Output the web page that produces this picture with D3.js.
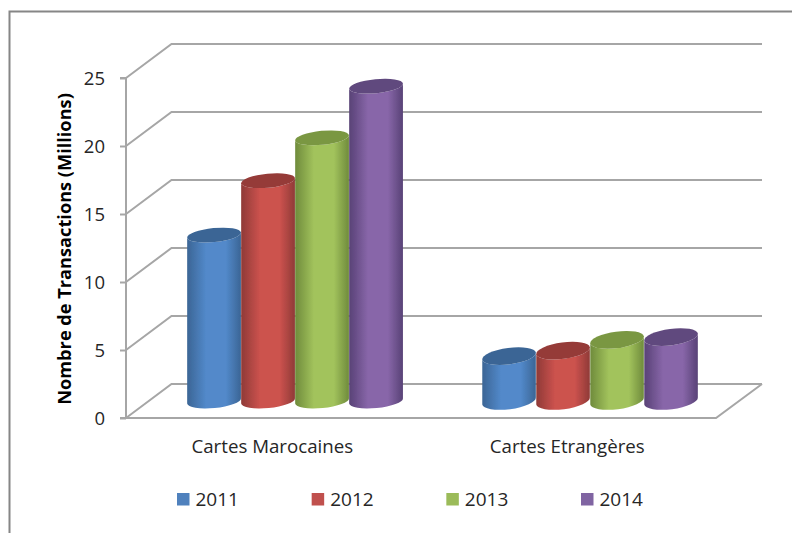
<!DOCTYPE html>
<html><head><meta charset="utf-8">
<script src="https://cdnjs.cloudflare.com/ajax/libs/d3/7.8.5/d3.min.js"></script>
<style>html,body{margin:0;padding:0;background:#fff}svg{display:block}</style>
</head><body><svg id="c" width="792" height="533"></svg>
<script>
const categories = ["Cartes Marocaines", "Cartes Etrangères"];
const years = ["2011", "2012", "2013", "2014"];
const values2011 = [12.2, 3.3];
const values2012 = [16.2, 3.7];
const values2013 = [19.35, 4.5];
const values2014 = [23.15, 4.7];
const seriesValues = [values2011, values2012, values2013, values2014];
const yTicks = [0, 5, 10, 15, 20, 25];
const sideColors = ["#5289ca", "#cc524e", "#a2c35c", "#8866a9"];
const edgeColors = ["#3b6595", "#8f3a37", "#6f8b3c", "#584276"];
const topColors = ["#3a6595", "#953a38", "#7a9742", "#61497e"];
const legendColors = ["#4f81bd", "#c0504d", "#9bbb59", "#8064a2"];
const gridColor = "#a6a6a6", font = "'Open Sans', sans-serif", textColor = "#262626";

const svg = d3.select("#c");
const M = {left: 126, right: 716, top: 78, bottom: 418};
const depth = {x: 45.5, y: 34};
const y = d3.scaleLinear().domain([0, 25]).range([M.bottom, M.top]);
const x0 = d3.scaleBand().domain(categories).range([M.left, M.right]);
const barW = 54;
const x1 = d3.scaleBand().domain(years).range([0, barW * 4]);

// frame
svg.append("path").attr("d", "M9.5,533V11.5H792").attr("fill", "none").attr("stroke", "#868686").attr("stroke-width", 2);

// gradients
const defs = svg.append("defs");
years.forEach((yr, i) => {
  const g = defs.append("linearGradient").attr("id", "g" + i);
  [[0, edgeColors[i]], [.35, sideColors[i]], [.55, sideColors[i]], [.72, sideColors[i]], [1, edgeColors[i]]]
    .forEach(([o, c]) => g.append("stop").attr("offset", o).attr("stop-color", c));
});
defs.append("filter").attr("id", "soft").attr("x", "-5%").attr("y", "-5%").attr("width", "110%").attr("height", "110%")
  .append("feGaussianBlur").attr("stdDeviation", 0.5);

// walls and grid
const grid = svg.append("g").attr("fill", "none").attr("stroke", gridColor).attr("stroke-width", 2);
yTicks.forEach(t => {
  grid.append("path").attr("d", `M${M.left},${y(t)}L${M.left + depth.x},${y(t) - depth.y}H762`);
});
grid.append("path").attr("d", `M${M.left},${y(0)}H${M.right}L762,${y(0) - depth.y}`);

const axis = d3.axisLeft(y).tickValues(yTicks).tickSize(6).tickPadding(15);
const ag = svg.append("g").attr("transform", `translate(${M.left},0)`).call(axis);
ag.select(".domain").attr("stroke", gridColor).attr("stroke-width", 2).attr("d", `M-6,${M.top}H0V${M.bottom}H-6`);
ag.selectAll(".tick line").attr("stroke", gridColor).attr("stroke-width", 2);
ag.selectAll(".tick text").attr("font-family", font).attr("font-size", 18.5).attr("fill", textColor).attr("dy", "0.36em");

// cylinders
const rx = barW / 2, rys = [7, 8.2], tilts = [-5.5, -7.5];
const baseY = y(0) - 17;
const pxPerUnit = y(0) - y(1);
const barsG = svg.append("g").attr("filter", "url(#soft)");
categories.forEach((c, ci) => {
  const gx = x0(c) + x0.bandwidth() / 2 + depth.x / 2 - barW * 2 - 1.2;
  const tilt = tilts[ci], ry = rys[ci];
  years.forEach((yr, si) => {
    const v = seriesValues[si][ci];
    const cx = gx + x1(yr) + rx;
    const cy = baseY - v * pxPerUnit;
    const g = barsG.append("g").attr("transform", `translate(${cx},0)`);
    const a = tilt * Math.PI / 180, dx = rx * Math.cos(a), dy = rx * Math.sin(a);
    g.append("path")
      .attr("d", `M${-dx},${cy - dy}L${-dx},${baseY - dy}A${rx},${ry} ${tilt} 0 0 ${dx},${baseY + dy}L${dx},${cy + dy}A${rx},${ry} ${tilt} 0 1 ${-dx},${cy - dy}Z`)
      .attr("fill", `url(#g${si})`);
    g.append("ellipse").attr("cx", 0).attr("cy", 0).attr("rx", rx).attr("ry", ry)
      .attr("transform", `translate(0,${cy}) rotate(${tilt})`).attr("fill", topColors[si]);
  });
});

// category labels
svg.append("g").selectAll("text").data(categories).join("text")
  .attr("x", d => x0(d) + x0.bandwidth() / 2 - 1.2)
  .attr("y", 453).attr("text-anchor", "middle")
  .attr("font-family", font).attr("font-size", 18.7).attr("fill", textColor).text(d => d);

// y title
svg.append("text").attr("transform", "translate(71,249) rotate(-90)")
  .attr("text-anchor", "middle").attr("font-family", font).attr("font-size", 18.2)
  .attr("font-weight", 700).attr("fill", "#000").text("Nombre de Transactions (Millions)");

// legend
const lx = d3.scalePoint().domain(years).range([177, 581]);
const lg = svg.append("g").selectAll("g").data(years).join("g").attr("transform", d => `translate(${lx(d)},493)`);
lg.append("rect").attr("width", 12.5).attr("height", 12.5).attr("fill", (d, i) => legendColors[i]);
lg.append("text").attr("x", 18.5).attr("y", 12.5).attr("font-family", font).attr("font-size", 19)
  .attr("fill", textColor).text(d => d);
</script></body></html>
